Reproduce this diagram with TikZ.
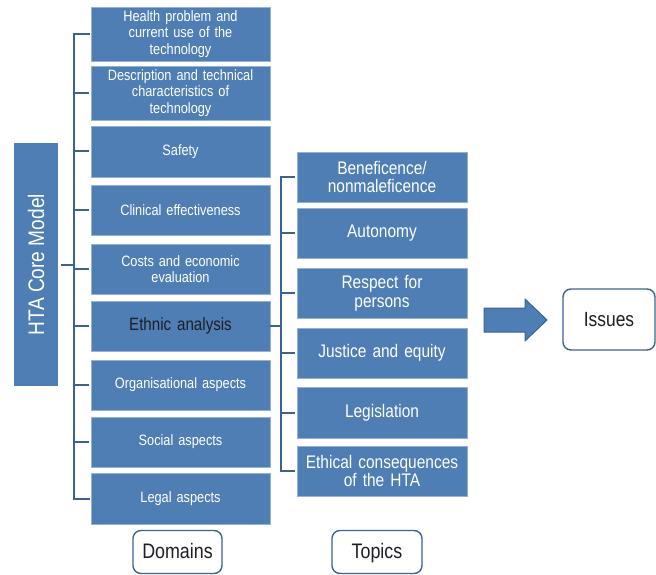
\documentclass[tikz,border=0pt]{standalone}
\usepackage{fontspec}
\setmainfont{Liberation Sans}[FakeStretch=0.85]
\definecolor{boxblue}{RGB}{79,126,181}
\definecolor{edgeblue}{RGB}{60,98,148}
\definecolor{darktext}{RGB}{30,30,35}
\tikzset{
  dombox/.style={rectangle, fill=boxblue, draw=boxblue!60!white, line width=0.6pt,
    minimum width=179pt, text width=176pt, align=center, text=white, inner sep=0pt,
    font=\fontsize{15}{16.3}\selectfont},
  topbox/.style={rectangle, fill=boxblue, draw=boxblue!60!white, line width=0.6pt,
    minimum width=170pt, minimum height=50pt, text width=168pt, align=center, text=white, inner sep=0pt,
    font=\fontsize{18.2}{18.8}\selectfont},
  labbox/.style={rectangle, rounded corners=8pt, draw=edgeblue, line width=1.4pt, fill=white,
    text=darktext, inner sep=0pt, text height=17pt, text depth=4pt, font=\fontsize{21}{23}\selectfont},
  bracket/.style={draw=edgeblue, line width=2pt},
}
\begin{document}
\begin{tikzpicture}[x=1pt,y=-1pt]
\useasboundingbox (0,0) rectangle (656,575);
% HTA core model
\node[rectangle, fill=boxblue, minimum width=44pt, minimum height=243pt, inner sep=0pt] (hta) at (36,264.5) {};
\node[rotate=90, text=white, font=\fontsize{22.5}{24}\selectfont] (htat) at (hta.center) {HTA Core Model};
% domains
\node[dombox, minimum height=54pt] (d1) at (180.5,34) {Health problem and\\current use of the\\technology};
\node[dombox, minimum height=54pt] (d2) at (180.5,93) {Description and technical\\characteristics of\\technology};
\node[dombox, minimum height=51pt] (d3) at (180.5,151.5) {Safety};
\node[dombox, minimum height=50pt] (d4) at (180.5,210) {Clinical effectiveness};
\node[dombox, minimum height=50pt] (d5) at (180.5,269) {Costs and economic\\evaluation};
\node[dombox, minimum height=50pt, text=darktext, font=\fontsize{17.8}{20}\selectfont] (d6) at (180.5,326) {Ethnic analysis};
\node[dombox, minimum height=50pt] (d7) at (180.5,385) {Organisational aspects};
\node[dombox, minimum height=50pt] (d8) at (180.5,442) {Social aspects};
\node[dombox, minimum height=51pt] (d9) at (180.5,498.5) {Legal aspects};
% topics
\node[topbox] (t1) at (382,177) {Beneficence/\\nonmaleficence};
\node[topbox] (t2) at (382,233) {Autonomy};
\node[topbox] (t3) at (382,293) {Respect for\\persons};
\node[topbox] (t4) at (382,353) {Justice and equity};
\node[topbox, minimum height=51pt] (t5) at (382,412.5) {Legislation};
\node[topbox] (t6) at (382,471) {Ethical consequences\\of the HTA};
% labels
\node[labbox, minimum width=89pt, minimum height=43pt] (dom) at (177.5,552) {Domains};
\node[labbox, minimum width=90pt, minimum height=43pt] (top) at (377,552) {Topics};
\node[labbox, minimum width=92pt, minimum height=61pt, font=\fontsize{20.5}{22}\selectfont] (iss) at (609,319.5) {Issues};
% left bracket
\coordinate (lb) at (74,0);
\draw[bracket] (hta.east) ++(3,0) -- (hta.east -| lb);
\draw[bracket, line cap=rect] ([xshift=-2pt]d1.west) -- (d1.west -| lb) -- (d9.west -| lb) -- ([xshift=-2pt]d9.west);
\foreach \n in {d2,d3,d4,d5,d6,d7,d8}
  \draw[bracket] ([xshift=-2pt]\n.west) -- (\n.west -| lb);
% right bracket
\coordinate (rb) at (281,0);
\draw[bracket] (d6.east) -- (d6.east -| rb);
\draw[bracket] ([xshift=-2pt]t1.west) -- (t1.west -| rb) -- (t6.west -| rb) -- ([xshift=-2pt]t6.west);
\foreach \n in {t2,t3,t4,t5}
  \draw[bracket] ([xshift=-2pt]\n.west) -- (\n.west -| rb);
% arrow
\draw[fill=boxblue, draw=edgeblue, line width=1pt, line join=miter]
  (484,308) -- (525,308) -- (525,299) -- (547,320) -- (525,341) -- (525,332) -- (484,332) -- cycle;
\end{tikzpicture}
\end{document}
